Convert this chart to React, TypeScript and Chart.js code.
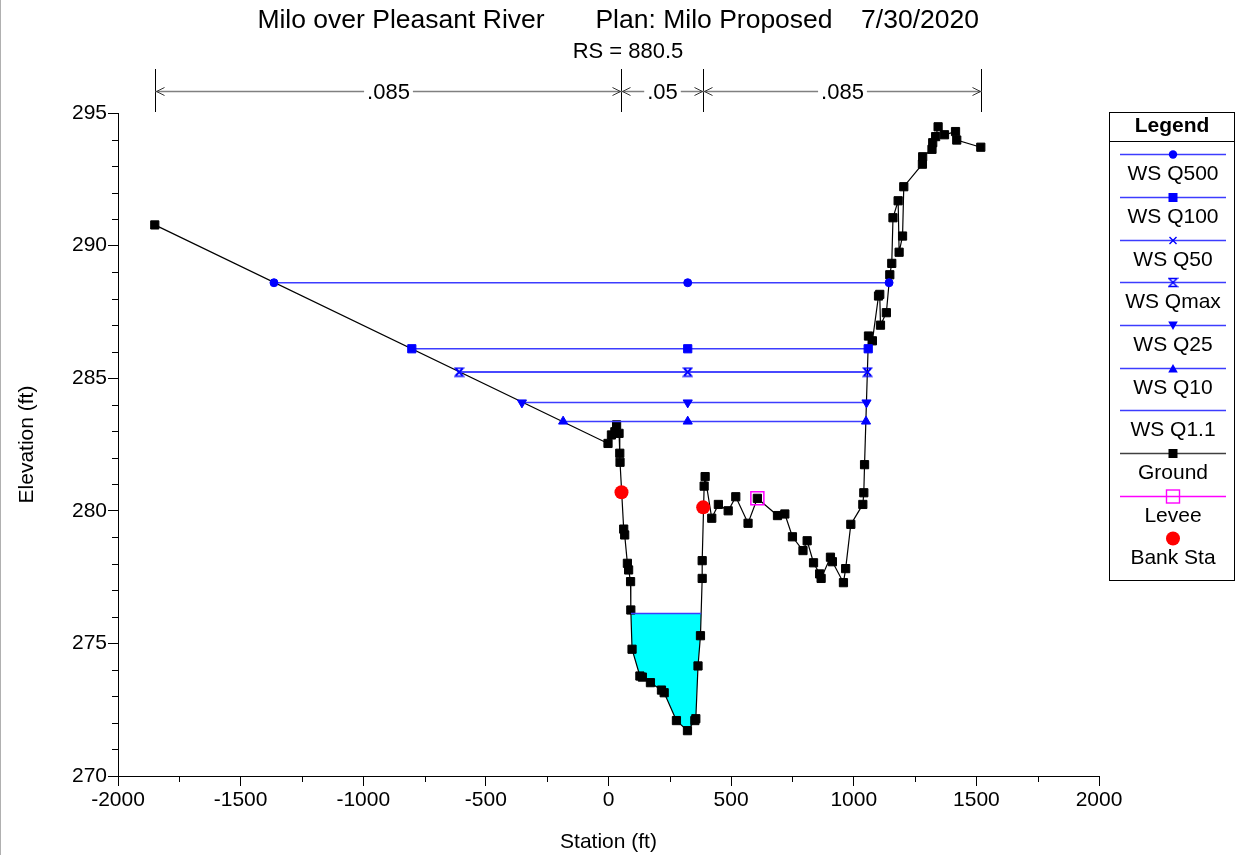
import React, { useEffect, useRef } from 'react';
import { Chart, registerables } from 'chart.js';

Chart.register(...registerables);

const FONT = 'Arial, "Liberation Sans", Helvetica, sans-serif';

// ---------- data ----------
const groundStation = [-1850, -2, 12, 26, 33, 43, 46, 47, 62, 66, 77, 82, 90, 91, 96, 128, 138, 171, 216, 227, 277, 322, 352, 356, 365, 375, 382, 382, 390, 394, 421, 448, 488, 519, 569, 607, 689, 719, 750, 793, 810, 836, 861, 867, 905, 913, 958, 967, 988, 1037, 1041, 1044, 1060, 1076, 1101, 1106, 1109, 1133, 1147, 1155, 1160, 1181, 1185, 1199, 1204, 1280, 1281, 1319, 1322, 1334, 1344, 1370, 1415, 1420, 1518];
const groundElev = [290.78, 282.54, 282.86, 282.98, 283.24, 282.92, 282.17, 281.83, 279.31, 279.09, 278.02, 277.77, 277.33, 276.26, 274.78, 273.77, 273.73, 273.52, 273.24, 273.14, 272.09, 271.71, 272.09, 272.16, 274.15, 275.29, 277.45, 278.12, 280.93, 281.29, 279.72, 280.24, 280.0, 280.53, 279.53, 280.47, 279.82, 279.88, 279.02, 278.5, 278.87, 278.04, 277.62, 277.45, 278.25, 278.08, 277.29, 277.82, 279.49, 280.24, 280.68, 281.74, 286.59, 286.41, 288.1, 288.16, 287.0, 287.47, 288.9, 289.33, 291.05, 291.69, 289.75, 290.36, 292.22, 293.07, 293.35, 293.63, 293.88, 294.11, 294.48, 294.18, 294.3, 293.98, 293.71];

const wsNames = ['WS Q500', 'WS Q100', 'WS Q50', 'WS Qmax', 'WS Q25', 'WS Q10', 'WS Q1.1'];
const wsElev = [288.6, 286.11, 285.23, 285.23, 284.08, 283.37, 276.13];
const wsLeft = [-1364, -802, -609, -609, -353, -185, 91.5];
const wsMid = [323, 323, 323, 323, 323, 323, null];
const wsRight = [1144, 1059, 1056, 1056, 1052, 1050, 378];

const leveeStation = [607];
const leveeElev = [280.47];

const bankStation = [53, 386];
const bankElev = [280.7, 280.13];

const nBreaks = [-1850, 53, 386, 1518];
const nValues = ['.085', '.05', '.085'];

const xTicks = [-2000, -1500, -1000, -500, 0, 500, 1000, 1500, 2000];
const yTicks = [270, 275, 280, 285, 290, 295];

const titleParts = ['Milo over Pleasant River', 'Plan: Milo Proposed', '7/30/2020'];
const titleCenters = [401, 714, 920];
const subtitle = 'RS = 880.5';
const xTitle = 'Station (ft)';
const yTitle = 'Elevation (ft)';

const legendLabels = ['WS Q500', 'WS Q100', 'WS Q50', 'WS Qmax', 'WS Q25', 'WS Q10', 'WS Q1.1', 'Ground', 'Levee', 'Bank Sta'];
const legendMarkers = ['circle', 'square', 'cross', 'hourglass', 'tridown', 'triup', 'none', 'square', 'opensquare', 'bigcircle'];
const legendColors = ['#0000ff', '#0000ff', '#0000ff', '#0000ff', '#0000ff', '#0000ff', '#0000ff', '#000000', '#ff00ff', '#ff0000'];

const WS_LINE = '#3c3cff';
const WS_MARK = '#0000ff';

// ---------- helpers ----------
function makeHourglass(color: string) {
  const c = document.createElement('canvas');
  c.width = 11;
  c.height = 11;
  const g = c.getContext('2d')!;
  g.strokeStyle = color;
  g.lineWidth = 1.4;
  g.beginPath();
  g.moveTo(1.5, 1.5);
  g.lineTo(9.5, 1.5);
  g.lineTo(1.5, 9.5);
  g.lineTo(9.5, 9.5);
  g.closePath();
  g.stroke();
  return c;
}

function drawMarker(ctx: CanvasRenderingContext2D, kind: string, x: number, y: number, color: string, hg: HTMLCanvasElement) {
  ctx.save();
  ctx.fillStyle = color;
  ctx.strokeStyle = color;
  ctx.lineWidth = 1.4;
  ctx.beginPath();
  switch (kind) {
    case 'circle':
      ctx.arc(x, y, 4.2, 0, Math.PI * 2);
      ctx.fill();
      break;
    case 'bigcircle':
      ctx.arc(x, y, 7, 0, Math.PI * 2);
      ctx.fill();
      break;
    case 'square':
      ctx.fillRect(x - 4.5, y - 4.5, 9, 9);
      break;
    case 'cross':
      ctx.moveTo(x - 3.5, y - 3.5);
      ctx.lineTo(x + 3.5, y + 3.5);
      ctx.moveTo(x + 3.5, y - 3.5);
      ctx.lineTo(x - 3.5, y + 3.5);
      ctx.stroke();
      break;
    case 'hourglass':
      ctx.drawImage(hg, x - 5.5, y - 5.5);
      break;
    case 'tridown':
      ctx.moveTo(x - 4.8, y - 4);
      ctx.lineTo(x + 4.8, y - 4);
      ctx.lineTo(x, y + 4.5);
      ctx.closePath();
      ctx.fill();
      break;
    case 'triup':
      ctx.moveTo(x - 4.8, y + 4);
      ctx.lineTo(x + 4.8, y + 4);
      ctx.lineTo(x, y - 4.5);
      ctx.closePath();
      ctx.fill();
      break;
    case 'opensquare':
      ctx.strokeRect(x - 6.5, y - 6.5, 13, 13);
      break;
    default:
      break;
  }
  ctx.restore();
}

export default function App() {
  const ref = useRef<HTMLCanvasElement>(null);

  useEffect(() => {
    document.body.style.margin = '0';
    const hourglass = makeHourglass(WS_MARK);

    const groundPts = groundStation.map((s, i) => ({ x: s, y: groundElev[i] }));
    const wsPts = (i: number) => {
      const pts = [{ x: wsLeft[i], y: wsElev[i] }];
      if (wsMid[i] !== null) pts.push({ x: wsMid[i] as number, y: wsElev[i] });
      pts.push({ x: wsRight[i], y: wsElev[i] });
      return pts;
    };

    const wsStyle: any[] = [
      { pointStyle: 'circle', pointRadius: 4, pointRotation: 0 },
      { pointStyle: 'rect', pointRadius: 5.8, pointRotation: 0 },
      { pointStyle: 'crossRot', pointRadius: 4.5, pointRotation: 0 },
      { pointStyle: hourglass, pointRadius: 5, pointRotation: 0 },
      { pointStyle: 'triangle', pointRadius: 5.3, pointRotation: 180 },
      { pointStyle: 'triangle', pointRadius: 5.3, pointRotation: 0 },
      { pointStyle: 'circle', pointRadius: 0, pointRotation: 0 },
    ];
    // draw order: lower index on top
    const wsOrder = [0, 1, 3, 2, 4, 5, 6];

    const datasets: any[] = [
      {
        label: 'Bank Sta',
        data: bankStation.map((s, i) => ({ x: s, y: bankElev[i] })),
        showLine: false,
        pointStyle: 'circle',
        pointRadius: 7,
        pointBackgroundColor: '#ff0000',
        pointBorderColor: '#ff0000',
        pointBorderWidth: 0,
      },
      {
        label: 'Levee',
        data: leveeStation.map((s, i) => ({ x: s, y: leveeElev[i] })),
        showLine: false,
        pointStyle: 'rect',
        pointRadius: 9.2,
        pointBackgroundColor: 'rgba(0,0,0,0)',
        pointBorderColor: '#ff00ff',
        pointBorderWidth: 1.5,
      },
      ...wsOrder.map((i) => ({
        label: wsNames[i],
        data: wsPts(i),
        showLine: true,
        borderColor: WS_LINE,
        borderWidth: 1.5,
        pointStyle: wsStyle[i].pointStyle,
        pointRadius: wsStyle[i].pointRadius,
        pointRotation: wsStyle[i].pointRotation,
        pointBackgroundColor: WS_MARK,
        pointBorderColor: WS_MARK,
        pointBorderWidth: i === 2 ? 1.6 : 1,
        fill: false,
      })),
      {
        label: 'Ground',
        data: groundPts,
        showLine: true,
        borderColor: '#000000',
        borderWidth: 1.2,
        pointStyle: 'rect',
        pointRadius: 5.8,
        pointBackgroundColor: '#000000',
        pointBorderColor: '#000000',
        pointBorderWidth: 1,
        fill: false,
      },
    ];

    const waterFill = {
      id: 'waterFill',
      beforeDatasetsDraw(chart: any) {
        const { ctx, scales } = chart;
        const xs = scales.x;
        const ys = scales.y;
        const k = wsNames.indexOf('WS Q1.1');
        const e = wsElev[k];
        const l = wsLeft[k];
        const r = wsRight[k];
        ctx.save();
        ctx.beginPath();
        ctx.moveTo(xs.getPixelForValue(l), ys.getPixelForValue(e));
        ctx.lineTo(xs.getPixelForValue(r), ys.getPixelForValue(e));
        for (let i = groundStation.length - 1; i >= 0; i--) {
          const s = groundStation[i];
          if (s > l && s < r && groundElev[i] < e) {
            ctx.lineTo(xs.getPixelForValue(s), ys.getPixelForValue(groundElev[i]));
          }
        }
        ctx.closePath();
        ctx.fillStyle = '#00ffff';
        ctx.fill();
        ctx.restore();
      },
    };

    const decorations = {
      id: 'decorations',
      afterDraw(chart: any) {
        const { ctx, scales, chartArea } = chart;
        const xs = scales.x;
        const ys = scales.y;
        ctx.save();

        // left gray edge
        ctx.fillStyle = '#b0b0b0';
        ctx.fillRect(0, 0, 1, 855);

        // minor ticks
        ctx.strokeStyle = '#000';
        ctx.lineWidth = 1;
        ctx.beginPath();
        for (let j = 0; j < yTicks.length - 1; j++) {
          for (let m = 1; m < 5; m++) {
            const v = yTicks[j] + m;
            const py = Math.round(ys.getPixelForValue(v)) + 0.5;
            ctx.moveTo(chartArea.left - 6, py);
            ctx.lineTo(chartArea.left, py);
          }
        }
        for (let j = 0; j < xTicks.length - 1; j++) {
          const v = (xTicks[j] + xTicks[j + 1]) / 2;
          const px = Math.round(xs.getPixelForValue(v)) + 0.5;
          ctx.moveTo(px, chartArea.bottom);
          ctx.lineTo(px, chartArea.bottom + 6);
        }
        ctx.stroke();

        // titles
        ctx.fillStyle = '#000';
        ctx.textAlign = 'center';
        ctx.textBaseline = 'middle';
        ctx.font = `26.5px ${FONT}`;
        titleParts.forEach((t, i) => ctx.fillText(t, titleCenters[i], 21));
        ctx.font = `22px ${FONT}`;
        ctx.fillText(subtitle, 628, 52);

        // Manning's n dimension lines
        const yL = 91.5;
        ctx.font = `22px ${FONT}`;
        const bx = nBreaks.map((s) => Math.round(xs.getPixelForValue(s)) + 0.5);
        ctx.strokeStyle = '#000';
        ctx.lineWidth = 1;
        ctx.beginPath();
        bx.forEach((px) => {
          ctx.moveTo(px, 69);
          ctx.lineTo(px, 112);
        });
        ctx.stroke();
        for (let i = 0; i < nValues.length; i++) {
          const x1 = bx[i];
          const x2 = bx[i + 1];
          const mid = (x1 + x2) / 2;
          const w = ctx.measureText(nValues[i]).width;
          const gap = w / 2 + 3;
          ctx.strokeStyle = '#808080';
          ctx.lineWidth = 1.5;
          ctx.beginPath();
          ctx.moveTo(x1, yL);
          ctx.lineTo(mid - gap, yL);
          ctx.moveTo(mid + gap, yL);
          ctx.lineTo(x2, yL);
          ctx.stroke();
          ctx.strokeStyle = '#333';
          ctx.lineWidth = 1;
          ctx.beginPath();
          ctx.moveTo(x1 + 9, yL - 4);
          ctx.lineTo(x1 + 1, yL);
          ctx.lineTo(x1 + 9, yL + 4);
          ctx.moveTo(x2 - 9, yL - 4);
          ctx.lineTo(x2 - 1, yL);
          ctx.lineTo(x2 - 9, yL + 4);
          ctx.stroke();
          ctx.fillStyle = '#000';
          ctx.fillText(nValues[i], mid, yL + 1);
        }

        // legend box
        const L = { left: 1109.5, right: 1234.5, top: 112.5, bottom: 580.5 };
        ctx.strokeStyle = '#000';
        ctx.lineWidth = 1;
        ctx.strokeRect(L.left, L.top, L.right - L.left, L.bottom - L.top);
        ctx.beginPath();
        ctx.moveTo(L.left, 141.5);
        ctx.lineTo(L.right, 141.5);
        ctx.stroke();
        ctx.fillStyle = '#000';
        ctx.font = `bold 21px ${FONT}`;
        ctx.fillText('Legend', 1172, 126);
        ctx.font = `21px ${FONT}`;
        const cx = 1173;
        for (let i = 0; i < legendLabels.length; i++) {
          const ly = Math.round(154.3 + i * 42.65) + 0.5;
          const kind = legendMarkers[i];
          const col = legendColors[i];
          if (kind !== 'bigcircle') {
            ctx.strokeStyle = i < 7 ? WS_LINE : i === 7 ? '#404040' : '#ff00ff';
            ctx.lineWidth = 1.5;
            ctx.beginPath();
            ctx.moveTo(1120, ly);
            ctx.lineTo(1226, ly);
            ctx.stroke();
          }
          drawMarker(ctx, kind, cx, ly, col, hourglass);
          ctx.fillStyle = '#000';
          ctx.fillText(legendLabels[i], cx, ly + 19.5);
        }
        ctx.restore();
      },
    };

    const chart = new Chart(ref.current!, {
      type: 'scatter',
      data: { datasets },
      options: {
        animation: false,
        responsive: false,
        devicePixelRatio: 1,
        events: [],
        layout: { padding: { top: 113, right: 137, left: 0, bottom: 0 } },
        plugins: {
          legend: { display: false },
          title: { display: false },
          tooltip: { enabled: false },
        },
        scales: {
          x: {
            type: 'linear',
            position: 'bottom',
            min: -2000,
            max: 2000,
            afterBuildTicks: (s: any) => {
              s.ticks = xTicks.map((v) => ({ value: v }));
            },
            afterFit: (s: any) => {
              s.height = 79;
            },
            ticks: {
              color: '#000',
              font: { family: FONT, size: 21 },
              padding: 2,
              maxRotation: 0,
              autoSkip: false,
              callback: (v: any) => String(v),
            },
            grid: { display: true, drawOnChartArea: false, drawTicks: true, tickLength: 10, color: '#000', lineWidth: 1 },
            border: { display: true, color: '#000', width: 1 },
            title: { display: true, text: xTitle, color: '#000', font: { family: FONT, size: 21 }, padding: { top: 0, bottom: 0 } },
          },
          y: {
            type: 'linear',
            position: 'left',
            min: 270,
            max: 295,
            afterBuildTicks: (s: any) => {
              s.ticks = yTicks.map((v) => ({ value: v }));
            },
            afterFit: (s: any) => {
              s.width = 118;
            },
            ticks: {
              color: '#000',
              font: { family: FONT, size: 21 },
              padding: 1,
              autoSkip: false,
              callback: (v: any) => String(v),
            },
            grid: { display: true, drawOnChartArea: false, drawTicks: true, tickLength: 10, color: '#000', lineWidth: 1 },
            border: { display: true, color: '#000', width: 1 },
            title: { display: true, text: yTitle, color: '#000', font: { family: FONT, size: 21 }, padding: { top: 15, bottom: 0 } },
          },
        },
      } as any,
      plugins: [waterFill, decorations],
    });
    return () => chart.destroy();
  }, []);

  return (
    <div style={{ position: 'absolute', left: 0, top: 0, width: 1236, height: 855, background: '#fff' }}>
      <canvas ref={ref} width={1236} height={855} style={{ display: 'block', width: 1236, height: 855 }} />
    </div>
  );
}
